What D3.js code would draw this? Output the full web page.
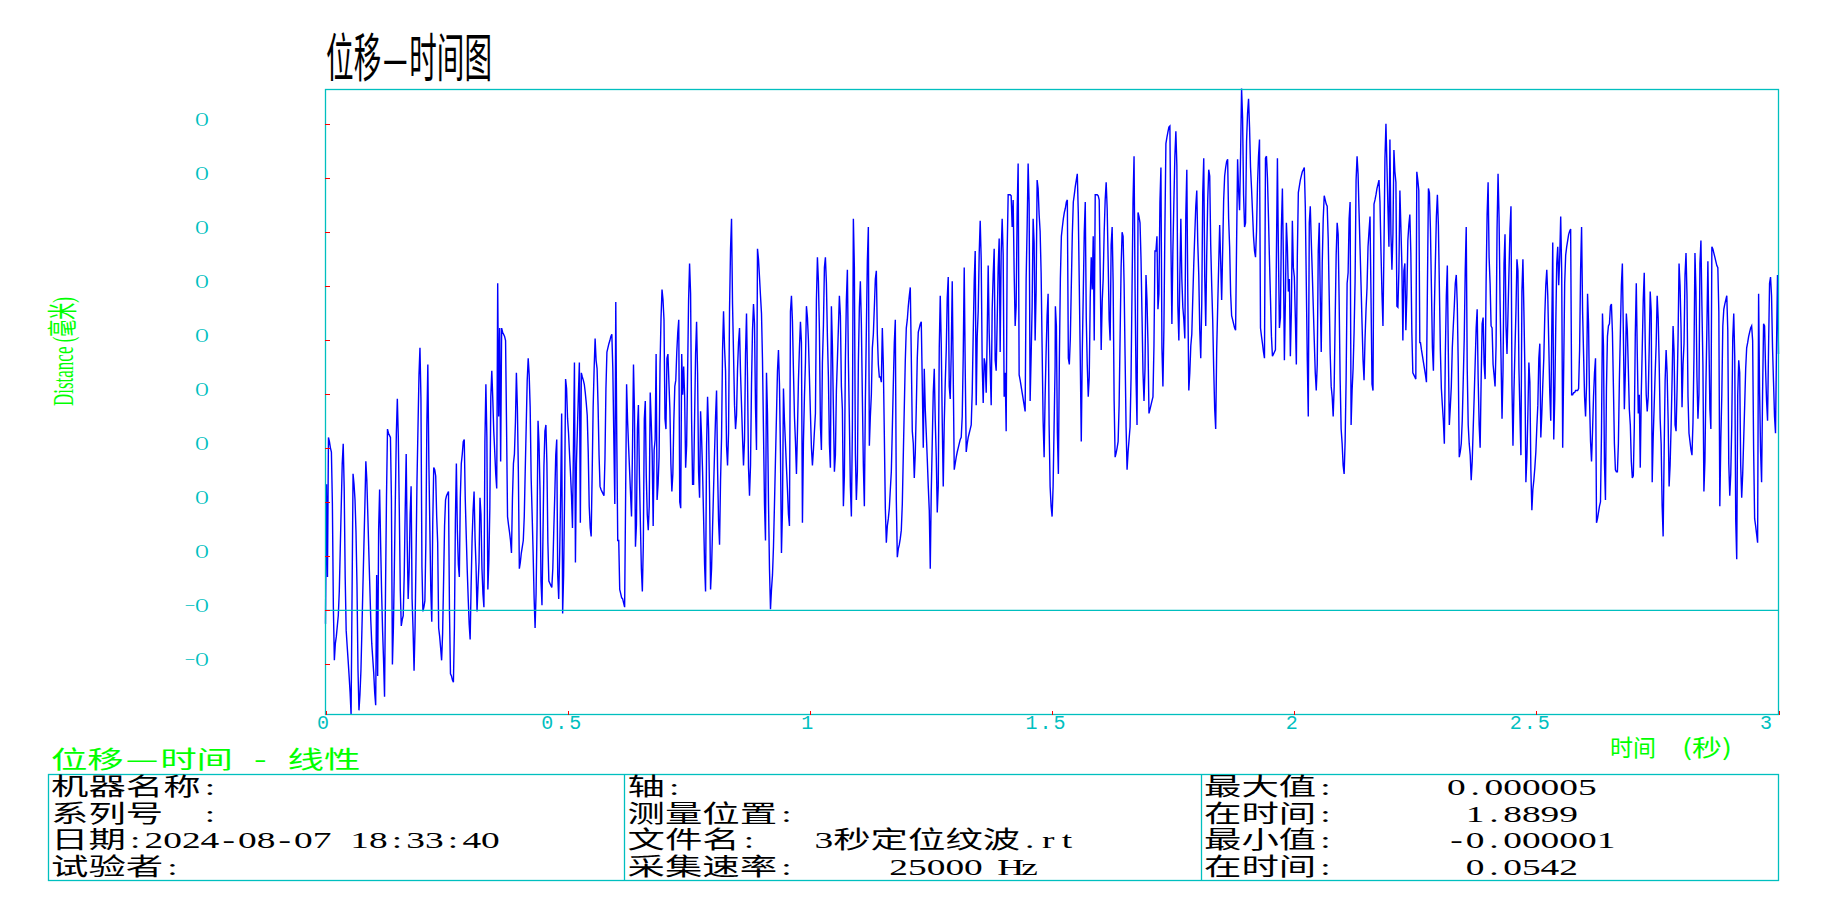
<!DOCTYPE html>
<html>
<head>
<meta charset="utf-8">
<script src="https://cdn.jsdelivr.net/npm/d3@7"></script>
<style>
html, body { margin: 0; padding: 0; background: #ffffff; }
svg { display: block; }
</style>
</head>
<body>
<svg id="chart" width="1825" height="900"></svg>
<script>
// ---------------- DATA ----------------
const titleText = "位移—时间图";
const yAxisTitle = "Distance (毫米)";
const xAxisTitle = ["时间", "(秒)"];
const chartCaption = "位移—时间 - 线性";

const timeTicks = [0, 0.5, 1, 1.5, 2, 2.5, 3];
const timeTickLabels = ["0", "0.5", "1", "1.5", "2", "2.5", "3"];

// displacement axis, values in 1e-6 mm
const distDomain = [-1, 5];
const distTicks = [-0.519, 0, 0.519, 1.037, 1.556, 2.074, 2.593, 3.111, 3.630, 4.148, 4.667];
const distTickLabels = ["−O", "−O", "O", "O", "O", "O", "O", "O", "O", "O", "O"];

// time span (s) of each read segment of the trace
const segmentTimes = [[0, 0.7517], [0.7538, 1.5064], [1.5070, 2.2594], [2.2608, 3.0]];

// displacement (1e-6 mm)
const seg1 = [
-0.13,1.21,0.32,1.66,1.62,1.56,1.52,1.02,0.03,-0.48,
-0.32,-0.25,-0.15,-0.05,0.18,0.59,1.00,1.41,1.60,1.17,
0.32,-0.19,-0.34,-0.48,-0.63,-0.79,-1.00,0.16,1.31,1.21,
1.06,0.75,0.24,-0.56,-0.96,-0.81,-0.58,-0.19,0.22,0.61,
1.00,1.43,1.25,0.92,0.57,0.24,-0.09,-0.32,-0.46,-0.60,
-0.79,-0.91,0.34,-0.63,0.77,1.16,0.65,0.18,-0.19,-0.48,
-0.83,0.20,1.10,1.74,1.70,1.68,1.66,1.06,-0.52,-0.17,
0.42,1.08,1.70,2.03,1.66,0.96,0.20,-0.15,-0.09,-0.05,
0.34,0.96,1.50,0.67,0.11,0.38,0.92,1.19,0.11,-0.19,
-0.58,-0.17,0.51,1.25,1.76,2.26,2.52,2.03,0.42,-0.01,
0.03,0.09,0.65,1.78,2.36,1.45,0.82,0.20,-0.11,0.84,
1.37,1.35,1.29,0.90,0.65,-0.17,-0.25,-0.36,-0.48,-0.23,
0.28,0.81,1.06,1.10,1.12,1.14,-0.01,-0.61,-0.63,-0.67,
-0.69,-0.17,0.86,1.41,0.77,0.44,0.32,1.08,1.41,1.50,
1.62,1.64,1.08,0.73,0.40,0.12,-0.13,-0.28,0.24,0.69,
0.96,1.14,0.69,0.42,-0.01,0.24,0.46,1.08,0.92,0.40,
0.16,0.03,1.62,2.17,1.66,0.20,0.47,0.98,2.05,2.30,
2.03,1.72,1.52,1.31,1.17,3.14,1.86,2.71,1.43,2.71,
2.67,2.65,2.63,2.59,1.76,0.90,0.82,0.75,0.67,0.55,
1.08,1.41,1.50,1.80,2.28,1.95,1.33,0.40,0.46,0.55,
0.61,0.67,0.90,1.35,1.78,2.21,2.42,2.26,1.95,1.27,
0.92,0.55,0.12,-0.17,0.16,0.82,1.82,1.60,1.16,0.28,
0.05,0.71,1.39,1.72,1.78,1.41,0.65,0.28,0.26,0.24,
0.22,0.40,0.77,1.10,1.49,1.64,0.34,0.11,0.55,1.12,
1.89,-0.03,0.34,1.10,2.22,2.13,1.84,1.70,1.50,1.31,
1.10,0.79,1.58,2.38,0.46,1.41,1.74,2.07,2.38,0.84,
2.28,2.24,2.21,2.17,2.09,1.99,1.87,1.52,1.00,0.79,
0.71,1.31,1.95,2.32,2.61,2.40,2.32,1.97,1.49,1.19,
1.16,1.14,1.12,1.10,1.45,2.13,2.48,2.52,2.56,2.59,
2.63,2.65,2.32,1.66,1.02,2.96,1.66,0.67,0.67,0.20,
0.16,0.12,0.11,0.07,0.03,1.10,2.17,1.82,1.58,1.35,
1.12,0.90,1.56,2.36,1.91,0.61,0.82,1.74,1.97,1.31,
0.84,0.40,0.18,0.63,1.84,2.01,1.29,0.92,0.77,1.00,
2.09,1.82,1.50,0.81,1.54,1.64,2.46,1.06,1.21,1.47,
2.36,2.81,3.08,2.98,2.79,1.84,1.74,2.42,2.46,2.19,
1.93,1.41,1.14,1.31,1.82,2.15,2.21,2.48,2.67,2.79,
1.04,0.98,2.46,2.07,2.34,2.05,1.37,1.58,2.28,2.98,
3.33];

const seg2 = [
3.04,1.84,1.21,1.21,1.84,2.46,2.77,2.28,1.33,1.08,
1.91,1.66,1.33,0.90,0.44,0.18,1.58,2.05,1.74,1.12,
0.20,0.40,0.79,1.16,1.52,1.86,2.11,1.37,0.86,0.63,
1.25,1.66,2.50,2.87,2.52,2.30,1.58,1.39,1.70,2.89,
3.47,3.76,2.94,2.46,1.97,1.74,1.87,2.32,2.57,2.71,
2.28,1.97,1.66,1.39,1.64,2.46,2.85,2.24,1.37,1.10,
1.39,2.17,2.69,2.94,2.75,1.95,1.54,3.47,3.37,3.20,
3.02,2.85,2.40,1.72,1.02,0.67,2.28,1.89,1.04,0.40,
0.01,0.20,0.34,0.61,1.02,1.45,1.87,2.30,2.50,2.17,
1.51,0.55,0.96,2.13,1.82,1.60,1.37,1.16,0.92,0.81,
2.87,3.02,2.77,2.30,1.86,1.62,1.31,1.72,2.21,2.52,
2.77,2.57,0.84,1.62,2.05,2.38,2.92,2.81,2.59,2.24,
1.89,1.56,1.39,1.54,1.72,1.89,2.98,3.39,3.16,2.69,
1.78,1.54,2.38,2.73,3.29,3.39,3.14,2.63,2.24,1.60,
1.37,2.92,2.54,1.93,1.33,1.49,2.11,2.40,2.71,3.02,
2.83,2.15,1.93,1.00,1.29,2.40,2.98,3.27,2.40,1.82,
1.19,0.90,1.74,3.76,3.29,1.51,1.06,1.33,2.38,2.91,
3.16,2.75,2.05,1.39,1.00,2.01,2.69,3.35,3.68,1.58,
1.86,2.07,2.52,2.65,2.91,3.18,3.26,2.65,2.36,2.24,
2.24,2.19,2.71,2.36,1.68,0.98,0.65,0.81,0.88,0.98,
1.16,1.33,1.74,2.17,2.57,2.79,1.06,0.51,0.59,0.63,
0.69,0.77,1.02,1.49,1.95,2.40,2.71,2.79,2.92,3.02,
3.10,2.44,1.72,1.60,1.27,1.51,1.95,2.42,2.67,2.71,
2.75,2.77,2.17,1.56,2.32,1.93,1.70,1.45,1.19,0.96,
0.40,1.14,1.62,2.09,2.32,1.82,1.47,0.94,1.19,2.52,
3.02,2.56,1.80,1.19,1.80,2.19,2.50,3.00,3.20,2.15,
2.03,2.48,3.16,2.26,1.35,1.41,1.47,1.52,1.56,1.60,
1.64,1.66,1.86,2.44,3.29,2.32,1.52,1.60,1.66,1.70,
1.74,1.78,2.09,2.65,3.16,3.45,1.97,2.63,2.87,3.43,
3.74,3.37,2.36,1.99,2.42,2.36,2.09,2.63,3.31,2.67,
2.32,1.97,2.89,3.22,3.47,2.40,2.30,2.77,3.29,3.57,
2.48,3.43,3.76,3.41,2.05,2.28,1.72,3.45,3.99,3.99,
3.99,3.98,3.68,3.94,3.24,2.73,2.92,3.82,4.29,2.26,
2.21,2.15,2.09,2.03,1.97,1.91,3.18,3.68,4.29,3.90,
2.01,2.44,2.92,3.76,3.53,2.59,3.06,4.13,4.05,3.80,
3.64,3.24,2.52,1.82,1.47,2.05,2.48,2.83,3.04,1.78,
1.19,1.00,0.90,1.19,1.78,2.34];

const seg3 = [
2.92,2.73,1.70,1.31,2.42,3.18,3.59,3.68,3.76,3.82,
3.86,3.92,3.94,2.42,2.36,2.61,3.12,3.61,3.92,3.99,
4.07,4.13,4.19,3.82,3.12,2.40,1.62,2.48,3.04,3.63,
3.92,2.81,2.36,2.05,2.24,3.00,3.39,3.08,3.59,2.59,
3.99,3.99,3.99,3.98,3.94,3.24,2.50,2.96,3.18,3.63,
3.94,4.11,3.86,3.35,2.79,2.59,3.51,3.68,3.14,2.01,
1.47,1.51,1.56,1.62,1.97,2.63,3.29,3.63,3.59,3.14,
2.44,1.76,1.35,1.52,1.64,1.76,2.24,3.10,3.94,4.36,
3.10,2.22,1.78,3.82,3.78,3.72,3.37,2.83,2.28,2.01,
2.32,3.22,2.98,2.56,1.89,1.93,1.97,2.01,2.05,2.54,
3.45,3.45,3.59,2.89,3.04,3.92,4.25,2.52,2.15,2.71,
3.68,4.48,4.54,4.59,4.64,4.65,3.55,2.75,3.45,3.92,
4.36,4.60,4.27,2.92,2.59,3.20,3.76,3.18,2.91,2.79,
2.61,3.80,4.23,3.02,2.11,2.28,2.54,2.65,3.00,3.33,
3.61,3.88,4.03,3.53,3.22,2.69,2.42,2.94,4.01,4.34,
3.20,2.73,3.41,3.94,4.23,4.17,3.51,3.12,2.79,2.32,
1.93,1.74,2.50,2.91,3.31,3.70,3.35,2.98,3.45,3.94,
4.17,4.25,4.31,4.33,3.76,3.49,3.04,2.83,2.79,2.75,
2.71,2.69,3.53,4.33,4.03,3.84,4.38,5.01,4.73,3.99,
3.68,3.72,4.50,4.77,4.91,4.64,4.25,4.05,3.82,3.59,
3.45,3.39,3.64,4.09,4.36,4.52,2.71,2.63,2.56,2.48,
2.42,4.34,4.36,4.15,3.78,3.37,3.00,2.63,2.44,2.46,
2.48,2.50,3.43,4.34,3.43,2.71,2.81,3.68,4.05,3.37,
2.40,2.98,3.72,3.49,3.06,3.18,2.44,2.87,3.74,3.29,
3.20,2.81,2.36,3.41,4.01,4.07,4.13,4.17,4.21,4.23,
4.25,3.88,3.14,2.40,1.86,3.72,3.88,3.55,3.24,2.92,
2.59,2.28,2.11,2.36,3.45,3.72,3.02,2.48,3.33,3.76,
3.98,3.94,3.90,3.88,3.57,3.02,2.46,2.15,2.05,1.86,
2.15,2.79,3.41,3.72,3.61,2.96,2.21,1.74,1.60,1.39,
1.31,1.62,2.22,3.14,3.24,3.76,3.92,1.78,2.11,2.32,
2.67,3.16,4.13,4.36,4.19,3.82,3.47,3.12,2.75,2.40,
2.21,2.61,2.89,3.10,3.49,3.64,3.78,3.00,2.17,2.11,
3.90,3.94,3.99,4.05,4.09,4.13,3.92,3.45,3.04,2.73,
3.47,4.34,4.67,4.27,3.86,3.49,4.52,3.61,3.27,3.61,
4.42,4.21,4.11,2.92,2.91,3.26,4.03,3.68,3.31,2.59,
3.26,3.33,2.69,3.04,3.55,3.70,3.80,3.43,2.67,2.28,
2.26,2.24,2.22,4.21,4.13,4.03,2.57];

const seg4 = [
2.57,2.50,2.44,2.38,2.32,2.26,2.19,3.12,4.05,4.01,
3.66,3.10,2.52,2.30,2.92,3.35,3.78,3.99,3.70,3.10,
2.50,2.13,1.97,1.82,1.60,2.46,3.02,3.31,2.48,1.78,
1.95,2.15,2.52,2.73,2.92,3.14,3.22,2.94,2.34,1.47,
1.52,1.60,1.82,2.21,2.61,3.26,3.68,2.32,1.78,1.60,
1.49,1.25,1.43,1.74,2.05,2.38,2.71,2.89,2.22,1.78,
1.56,2.21,2.75,2.81,2.36,2.22,3.16,3.80,4.11,3.39,
3.14,2.73,2.71,2.36,2.26,2.15,2.54,3.66,4.19,3.78,
2.98,2.42,1.84,2.30,3.33,3.61,2.73,2.46,2.85,3.26,
3.66,3.88,2.15,1.58,2.11,2.50,2.87,3.37,3.26,2.32,
1.89,1.49,3.06,3.37,2.87,2.30,1.23,1.47,1.89,2.38,
2.19,1.35,0.96,1.16,1.25,1.37,1.52,1.76,1.97,2.42,
2.56,1.66,1.89,2.17,2.42,2.83,3.12,3.27,3.02,2.56,
2.09,1.82,2.67,3.53,1.64,2.03,2.71,3.33,3.49,3.12,
3.39,3.78,3.24,1.56,2.32,3.14,3.41,3.49,3.55,3.61,
3.64,3.66,2.07,2.07,2.09,2.09,2.11,2.11,2.11,2.13,
2.50,3.27,3.68,2.87,2.46,2.05,1.86,2.17,3.04,2.75,
2.01,1.62,1.43,1.72,2.05,2.28,2.42,0.84,0.88,0.94,
1.00,1.04,1.70,2.85,2.54,1.41,1.06,2.13,2.63,2.73,
2.75,2.92,2.94,2.67,2.15,1.60,1.35,1.33,1.33,1.60,
2.21,2.67,3.12,3.33,2.67,1.93,2.28,2.85,2.69,2.32,
1.93,1.78,1.43,1.27,1.29,1.76,2.65,3.14,2.46,1.89,
2.07,1.37,2.07,2.52,2.98,3.24,2.56,2.07,1.91,2.05,
2.52,3.06,2.87,1.23,1.66,1.97,2.28,2.56,3.02,2.81,
2.38,1.84,1.60,1.00,0.71,1.52,2.21,2.50,2.28,1.84,
1.19,1.39,1.76,2.21,2.73,2.48,1.78,1.72,2.11,2.61,
3.33,3.12,2.71,1.95,2.36,2.56,3.22,3.43,3.02,2.05,
1.70,1.62,1.54,1.49,1.80,2.44,3.43,3.06,2.24,1.84,
2.07,3.33,3.55,2.92,2.36,1.14,1.43,2.15,2.71,3.35,
2.63,1.93,1.74,3.49,3.47,3.43,3.39,3.35,3.31,3.29,
2.87,1.00,1.64,2.07,2.73,2.89,2.94,2.98,3.02,2.69,
1.41,1.10,1.31,1.78,2.61,2.85,2.44,0.86,0.49,2.07,
2.40,2.28,1.39,1.08,1.31,1.64,1.97,2.32,2.52,2.57,
2.63,2.67,2.71,2.73,2.59,1.54,0.88,0.81,0.73,0.65,
3.04,2.09,1.52,1.23,2.09,2.75,2.73,2.32,2.01,1.82,
2.52,3.14,3.20,3.02,2.52,2.19,1.86,1.70,2.52,3.22,
2.46];

const segments = [seg1, seg2, seg3, seg4];

// info table
const infoCol1 = ["机器名称:", "系列号  :", "日期:2024-08-07 18:33:40", "试验者:"];
const infoCol2 = ["轴:", "测量位置:", "文件名:   3秒定位纹波.rt", "采集速率:     25000 Hz"];
const infoCol3 = ["最大值:      0.000005", "在时间:       1.8899", "最小值:      -0.000001", "在时间:       0.0542"];

// ---------------- STYLE ----------------
const CYAN = "#00bfbf";
const LIME = "#00ff00";
const BLUE = "#0000ff";
const RED = "#ff0000";

const svg = d3.select("#chart");
svg.append("rect").attr("width", 1825).attr("height", 900).attr("fill", "#ffffff");

const plot = { left: 325.5, right: 1778.5, top: 89.5, bottom: 714.5 };

const x = d3.scaleLinear().domain([0, 3]).range([plot.left, plot.right]);
const y = d3.scaleLinear().domain(distDomain).range([plot.bottom, plot.top]);

// build points
const points = [];
segments.forEach((vals, s) => {
  const [t0, t1] = segmentTimes[s];
  const n = vals.length;
  vals.forEach((v, i) => points.push({ t: t0 + (t1 - t0) * i / (n - 1), v }));
});

function isWide(ch) {
  return /[\u2014\u2E80-\u9FFF\uAC00-\uD7A3\uF900-\uFAFF\uFF00-\uFF60\uFFE0-\uFFE6]/.test(ch);
}
// monospace-like text: each glyph centred in its cell (half-width = unit, full-width = 2*unit), stretched by sx
function monoText(parent, str, x0, yBase, unit, sx) {
  const chars = [], xs = [];
  let pos = 0;
  for (const ch of str) {
    const w = isWide(ch) ? 2 : 1;
    if (ch !== " ") { chars.push(ch); xs.push(((pos + w / 2) * unit / sx).toFixed(2)); }
    pos += w;
  }
  return parent.append("text")
    .attr("transform", `translate(${x0},${yBase}) scale(${sx},1)`)
    .attr("x", xs.join(" "))
    .attr("y", 0)
    .attr("text-anchor", "middle")
    .text(chars.join(""));
}

// title
monoText(svg, titleText, 326, 77, 13.85, 0.53)
  .attr("font-family", "'Noto Sans CJK SC', sans-serif")
  .attr("font-size", 52)
  .attr("fill", "#000");

// trace
svg.append("path")
  .datum(points)
  .attr("fill", "none")
  .attr("stroke", BLUE)
  .attr("stroke-width", 1.4)
  .attr("stroke-linejoin", "miter")
  .attr("d", d3.line().x(d => x(d.t)).y(d => y(d.v)));

// frame
svg.append("rect")
  .attr("x", plot.left).attr("y", plot.top)
  .attr("width", plot.right - plot.left).attr("height", plot.bottom - plot.top)
  .attr("fill", "none").attr("stroke", CYAN).attr("stroke-width", 1.3);

// zero line
svg.append("line")
  .attr("x1", plot.left).attr("x2", plot.right)
  .attr("y1", y(0)).attr("y2", y(0))
  .attr("stroke", CYAN).attr("stroke-width", 1.3);

// x axis
const xAxis = d3.axisBottom(x)
  .tickValues(timeTicks)
  .tickFormat((d, i) => timeTickLabels[i])
  .tickSizeInner(-4).tickSizeOuter(0);
const gx = svg.append("g").attr("transform", `translate(0,${plot.bottom})`).call(xAxis);
gx.select(".domain").remove();
gx.selectAll(".tick line").attr("stroke", RED).attr("stroke-width", 1).attr("shape-rendering", "crispEdges");
gx.selectAll(".tick text")
  .attr("fill", CYAN)
  .attr("font-family", "'Liberation Mono', monospace")
  .attr("font-size", 20)
  .attr("letter-spacing", "2px")
  .attr("text-anchor", "middle")
  .attr("y", 14.5).attr("dy", 0)
  .attr("dx", (d, i) => (i === timeTicks.length - 1 ? -12 : (timeTickLabels[i].length > 1 ? -6 : -2)));

// y axis
const yAxis = d3.axisLeft(y)
  .tickValues(distTicks)
  .tickFormat((d, i) => distTickLabels[i])
  .tickSizeInner(-4).tickSizeOuter(0);
const gy = svg.append("g").attr("transform", `translate(${plot.left},0)`).call(yAxis);
gy.select(".domain").remove();
gy.selectAll(".tick line").attr("x1", -1).attr("stroke", RED).attr("stroke-width", 1).attr("shape-rendering", "crispEdges");
gy.selectAll(".tick text")
  .attr("fill", CYAN)
  .attr("font-family", "'Liberation Serif', serif")
  .attr("font-size", 18.5)
  .attr("text-anchor", "end")
  .attr("x", 208.5 - plot.left).attr("dy", 1);

// y axis title
svg.append("text")
  .attr("transform", "translate(73,406) rotate(-90)")
  .attr("font-family", "'Liberation Serif', 'Noto Sans CJK SC', serif")
  .attr("font-size", 30)
  .attr("fill", LIME)
  .attr("textLength", 109)
  .attr("lengthAdjust", "spacingAndGlyphs")
  .text(yAxisTitle);

// x axis title
svg.append("text")
  .attr("x", 1610).attr("y", 756)
  .attr("font-family", "'Noto Sans CJK SC', sans-serif")
  .attr("font-size", 23).attr("fill", LIME)
  .text(xAxisTitle[0]);
svg.append("text")
  .attr("x", 1682).attr("y", 756)
  .attr("font-family", "'Noto Sans CJK SC', sans-serif")
  .attr("font-size", 23).attr("fill", LIME)
  .attr("textLength", 50).attr("lengthAdjust", "spacingAndGlyphs")
  .text(xAxisTitle[1]);

// caption
monoText(svg, chartCaption, 51, 768, 18.2, 1.52)
  .attr("font-family", "'Noto Sans CJK SC', sans-serif")
  .attr("font-size", 24)
  .attr("fill", LIME);

// info table
const table = { left: 48.5, right: 1778.5, top: 774.5, bottom: 880.5, div1: 624.5, div2: 1201.5 };
svg.append("rect")
  .attr("x", table.left).attr("y", table.top)
  .attr("width", table.right - table.left).attr("height", table.bottom - table.top)
  .attr("fill", "none").attr("stroke", CYAN).attr("stroke-width", 1.3);
[table.div1, table.div2].forEach(xx => {
  svg.append("line").attr("x1", xx).attr("x2", xx).attr("y1", table.top).attr("y2", table.bottom)
    .attr("stroke", CYAN).attr("stroke-width", 1.3);
});
const colX = [51, 627.5, 1204];
const rowY = [795, 821.7, 848.3, 875];
[infoCol1, infoCol2, infoCol3].forEach((col, c) => {
  col.forEach((str, r) => {
    monoText(svg, str, colX[c], rowY[r], 18.7, 1.558)
      .attr("font-family", "'Liberation Serif', 'Noto Sans CJK SC', serif")
      .attr("font-size", 24)
      .attr("fill", "#000");
  });
});
</script>
</body>
</html>
